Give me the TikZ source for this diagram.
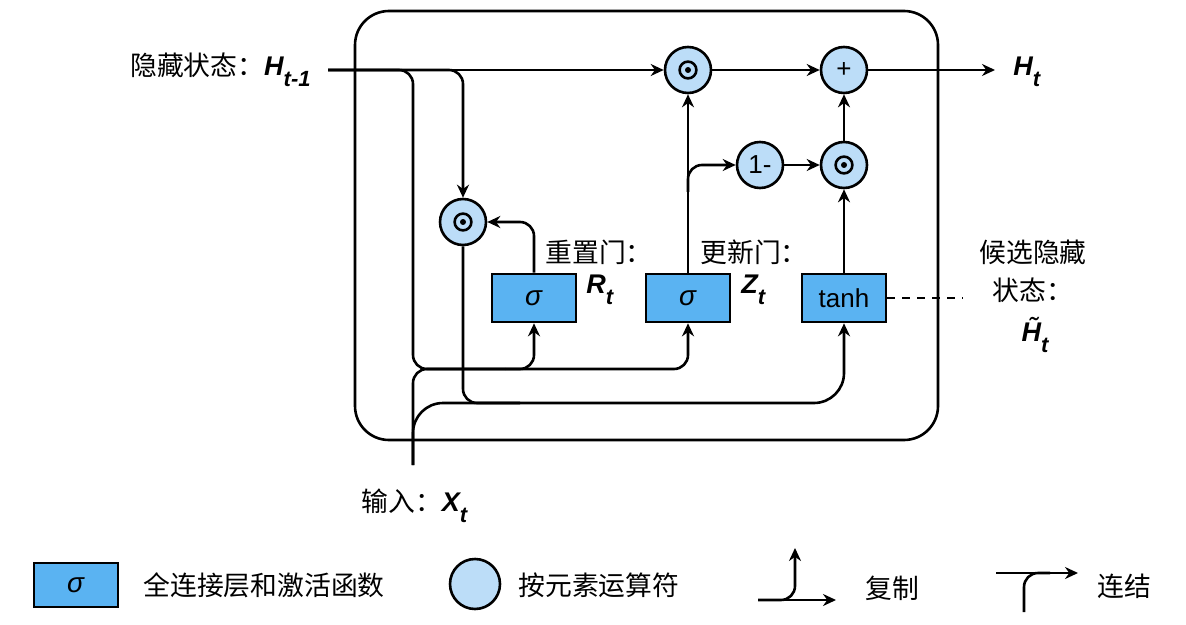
\documentclass[tikz,border=0pt]{standalone}
\usepackage{fontspec}
\setmainfont{Liberation Sans}
\newfontfamily\cjk{Noto Sans CJK SC}
\usetikzlibrary{arrows.meta}
\definecolor{gatefill}{HTML}{5AB3F2}
\definecolor{opfill}{HTML}{BCDDF8}
\newcommand{\varsym}[2]{{\bfseries\itshape\fontsize{13.5}{16}\selectfont #1\raisebox{-5.5pt}{\fontsize{11}{12}\selectfont #2}}}
\tikzset{
    gate-box/.style = {draw, fill=gatefill, line width=1.3pt, rectangle, minimum width=42pt, minimum height=24pt, inner sep=0pt},
    op-circle/.style = {draw, fill=opfill, line width=1.3pt, circle, minimum size=23pt, inner sep=0pt},
    op-dot/.style = {op-circle, path picture={
        \draw[black, line width=1.3pt] (path picture bounding box.center) circle (4.2pt);
        \fill[black] (path picture bounding box.center) circle (1.5pt);}},
    wire/.style = {line width=1.3pt},
    flow/.style = {wire, -{Stealth[length=6.5pt, width=6pt]}},
    tag-text/.style = {inner sep=0pt, font=\cjk\fontsize{13.4}{16}\selectfont},
}

\begin{document}
\begin{tikzpicture}[x=0.5pt, y=-0.5pt, font=\fontsize{13}{15}\selectfont]
\useasboundingbox (0,0) rectangle (1186,625);

% the cell
\node[draw, line width=1.3pt, rounded corners=17pt, minimum width=291.5pt, minimum height=214.5pt] (cell) at (646.5,225.5) {};

% gates and element-wise operators
\node[gate-box] (gateR) at (534,298) {\fontsize{14}{16}\selectfont\textit{σ}};
\node[gate-box] (gateZ) at (688,298) {\fontsize{14}{16}\selectfont\textit{σ}};
\node[gate-box] (cand) at (844,298) {tanh};
\node[op-dot] (mulR) at (463,222) {};
\node[op-dot] (mulH) at (688,70) {};
\node[op-circle] (add) at (844,70) {+};
\node[op-circle] (oneminus) at (760,165) {1-};
\node[op-dot] (mulC) at (844,165) {};

\coordinate (hin) at (328,70);
\coordinate (hout) at (995,70);
\coordinate (xin) at (413,465);
\coordinate (h-turn) at (413,369);
\coordinate (rz-split) at (505,369);
\coordinate (rh-join) at (520,403);
\coordinate (cand-turn) at (844,403);
\coordinate (z-split) at (688,192);
\coordinate (dash-end) at (963,298);

% hidden state in, input in
\draw[flow] (hin) -- (mulH.west);
\draw[flow, rounded corners=7pt] (hin) -| (h-turn) -| (gateZ.south);
\draw[flow, rounded corners=7pt] (hin) -| (mulR.north);
\draw[wire, rounded corners=7pt] (xin) |- (rz-split);
\draw[flow, rounded corners=7pt] (rz-split) -| (gateR.south);
\draw[flow, rounded corners=15pt] (xin) |- (cand-turn) -- (cand.south);
\draw[wire, rounded corners=7pt] (mulR.south) |- (rh-join);
\draw[flow, rounded corners=7pt] (gateR.north) |- (mulR.east);

% update path
\draw[flow] (gateZ.north) -- (mulH.south);
\draw[flow, rounded corners=7pt] (z-split) |- (oneminus.west);
\draw[flow] (oneminus) -- (mulC);
\draw[flow] (cand) -- (mulC);
\draw[flow] (mulH) -- (add);
\draw[flow] (mulC) -- (add);
\draw[flow] (add.east) -- (hout);
\draw[wire, dash pattern=on 4pt off 3.5pt] (cand.east) -- (dash-end);

% labels
\node[tag-text, anchor=base east] (hprev-label) at (311,76) {隐藏状态：{\fontspec{Liberation Sans}\varsym{H}{t-1}}};
\node[anchor=base west, inner sep=0pt] (ht-label) at (1013,76) {\varsym{H}{t}};
\node[tag-text, anchor=west] (r-name) at (545,252) {重置门：};
\node[anchor=base west, inner sep=0pt] (r-sym) at (586,293) {\varsym{R}{t}};
\node[tag-text, anchor=west] (z-name) at (700,252) {更新门：};
\node[anchor=base west, inner sep=0pt] (z-sym) at (741,293) {\varsym{Z}{t}};
\node[tag-text] (cand-name1) at (1033,252) {候选隐藏};
\node[tag-text] (cand-name2) at (1033,290) {状态：};
\node[inner sep=0pt] (cand-sym) at (1035,335) {\varsym{\~{H}}{t}};
\node[tag-text, anchor=base west] (x-label) at (361,511) {输入：{\fontspec{Liberation Sans}\varsym{X}{t}}};

% legend
\node[gate-box, minimum height=22pt] (key-gate) at (76,585) {\fontsize{14}{16}\selectfont\textit{σ}};
\node[tag-text, anchor=west] (key-gate-text) at (143,585) {全连接层和激活函数};
\node[op-circle, minimum size=25pt] (key-op) at (475,584) {};
\node[tag-text, anchor=west] (key-op-text) at (518,585) {按元素运算符};

\coordinate (copy-in) at (758,600);
\coordinate (copy-out) at (836,600);
\coordinate (copy-up) at (795,548);
\draw[flow] (copy-in) -- (copy-out);
\draw[flow, rounded corners=7pt] (copy-in) -| (copy-up);
\node[tag-text, anchor=west] (copy-text) at (865,588) {复制};

\coordinate (cat-in) at (996,573);
\coordinate (cat-out) at (1078,573);
\coordinate (cat-low) at (1024,612);
\coordinate (cat-join) at (1050,573);
\draw[flow] (cat-in) -- (cat-out);
\draw[wire, rounded corners=7pt] (cat-low) |- (cat-join);
\node[tag-text, anchor=west] (cat-text) at (1097,586) {连结};
\end{tikzpicture}
\end{document}
